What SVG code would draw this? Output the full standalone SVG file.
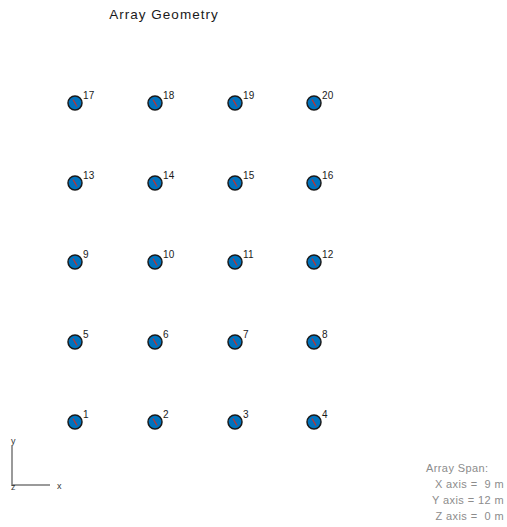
<svg xmlns="http://www.w3.org/2000/svg" width="507" height="527" viewBox="0 0 507 527">
<style>
.dot{fill:#0072BD;stroke:#1a1a1a;stroke-width:1.5}
.dir{stroke:#c8302a;stroke-width:1.2}
.lbl{font-family:"Liberation Sans",Arial,sans-serif;font-size:10px;letter-spacing:0.3px;fill:#1a1a1a}
.ttl{font-family:"Liberation Sans",Arial,sans-serif;font-size:13.5px;letter-spacing:1px;fill:#1a1a1a}
.span{font-family:"Liberation Sans",Arial,sans-serif;font-size:11px;letter-spacing:0.4px;fill:#8c8c8c;white-space:pre}
.ax{stroke:#7a7a7a;stroke-width:1.5;fill:none}
.axl{font-family:"Liberation Sans",Arial,sans-serif;font-size:9px;fill:#333}
</style>
<defs>
<g id="elem"><circle class="dot" r="7"/><line class="dir" x1="-2" y1="-3.5" x2="2" y2="3.5"/></g>
</defs>
<text class="ttl" x="164" y="19" text-anchor="middle">Array Geometry</text>
<g id="elements">
<g id="e1"><use href="#elem" x="75" y="422"/><text class="lbl" x="83" y="418">1</text></g>
<g id="e2"><use href="#elem" x="155" y="422"/><text class="lbl" x="163" y="418">2</text></g>
<g id="e3"><use href="#elem" x="235" y="422"/><text class="lbl" x="243" y="418">3</text></g>
<g id="e4"><use href="#elem" x="314" y="422"/><text class="lbl" x="322" y="418">4</text></g>
<g id="e5"><use href="#elem" x="75" y="342"/><text class="lbl" x="83" y="338">5</text></g>
<g id="e6"><use href="#elem" x="155" y="342"/><text class="lbl" x="163" y="338">6</text></g>
<g id="e7"><use href="#elem" x="235" y="342"/><text class="lbl" x="243" y="338">7</text></g>
<g id="e8"><use href="#elem" x="314" y="342"/><text class="lbl" x="322" y="338">8</text></g>
<g id="e9"><use href="#elem" x="75" y="262"/><text class="lbl" x="83" y="258">9</text></g>
<g id="e10"><use href="#elem" x="155" y="262"/><text class="lbl" x="163" y="258">10</text></g>
<g id="e11"><use href="#elem" x="235" y="262"/><text class="lbl" x="243" y="258">11</text></g>
<g id="e12"><use href="#elem" x="314" y="262"/><text class="lbl" x="322" y="258">12</text></g>
<g id="e13"><use href="#elem" x="75" y="183"/><text class="lbl" x="83" y="179">13</text></g>
<g id="e14"><use href="#elem" x="155" y="183"/><text class="lbl" x="163" y="179">14</text></g>
<g id="e15"><use href="#elem" x="235" y="183"/><text class="lbl" x="243" y="179">15</text></g>
<g id="e16"><use href="#elem" x="314" y="183"/><text class="lbl" x="322" y="179">16</text></g>
<g id="e17"><use href="#elem" x="75" y="103"/><text class="lbl" x="83" y="99">17</text></g>
<g id="e18"><use href="#elem" x="155" y="103"/><text class="lbl" x="163" y="99">18</text></g>
<g id="e19"><use href="#elem" x="235" y="103"/><text class="lbl" x="243" y="99">19</text></g>
<g id="e20"><use href="#elem" x="314" y="103"/><text class="lbl" x="322" y="99">20</text></g>
</g>
<g id="axes">
<path class="ax" d="M12,446 V485 H50"/>
<text class="axl" x="11" y="444">y</text>
<text class="axl" x="57" y="489">x</text>
<text class="axl" x="11" y="490">z</text>
</g>
<g id="span">
<text class="span" x="426" y="472">Array Span:</text>
<text class="span" x="504" y="488" text-anchor="end">X axis =  9 m</text>
<text class="span" x="504" y="504" text-anchor="end">Y axis = 12 m</text>
<text class="span" x="504" y="520" text-anchor="end">Z axis =  0 m</text>
</g>
</svg>
